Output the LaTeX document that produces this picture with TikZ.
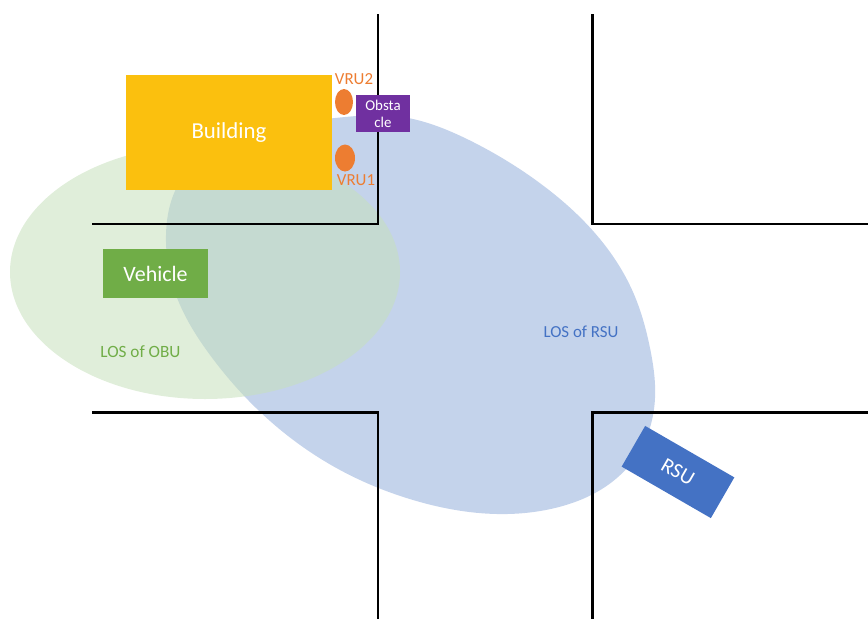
\documentclass[tikz,border=0pt]{standalone}
\usepackage{fontspec}
\setmainfont{Carlito}
\usetikzlibrary{shapes.geometric}
\usetikzlibrary{hobby}

\definecolor{bldg}{RGB}{251,192,14}
\definecolor{vrucol}{RGB}{237,125,49}
\definecolor{obstcol}{RGB}{112,48,160}
\definecolor{vehcol}{RGB}{112,173,71}
\definecolor{rsucol}{RGB}{68,114,196}
\definecolor{losrsu}{RGB}{196,211,235}
\definecolor{losobu}{RGB}{199,224,188}

\begin{document}
\begin{tikzpicture}[x=0.02cm, y=-0.02cm,
    road/.style={line width=1.7pt, black},
    box/.style={rectangle, inner sep=0pt, text=white}]
        \useasboundingbox (0,0) rectangle (868,619);
        % line of sight areas
        \fill[losrsu] plot[closed hobby] coordinates {(395,116) (469,140) (537,181) (594,232) (633,292) (650,348) (655,398) (643,445) (612,482) (555,508) (497,514) (413,500) (340,470) (270,421) (210,355) (176,295) (166,235) (178,185) (215,148) (270,127) (335,118)};
        \fill[losobu, opacity=0.55] (205,272) ellipse [x radius=195, y radius=127];
        % roads
        \draw[road] (378,14) -- (378,224) -- (92,224);
        \draw[road] (592,14) -- (592,224) -- (868,224);
        \draw[road] (92,412) -- (378,412) -- (378,619);
        \draw[road] (868,412) -- (592,412) -- (592,619);
        % objects
        \node[box, fill=bldg, minimum width=4.12cm, minimum height=2.3cm, font=\fontsize{13}{15}\selectfont] at (229,132.5) (building) {Building};
        \node[ellipse, fill=vrucol, inner sep=0pt, minimum width=0.36cm, minimum height=0.52cm] at (344,102) (vru2) {};
        \node[ellipse, fill=vrucol, inner sep=0pt, minimum width=0.4cm, minimum height=0.54cm] at (345,158) (vru1) {};
        \node[text=vrucol, font=\fontsize{9.6}{11}\selectfont, inner sep=0pt] at (354,79) (vru2lbl) {VRU2};
        \node[text=vrucol, font=\fontsize{9.6}{11}\selectfont, inner sep=0pt] at (356,180) (vru1lbl) {VRU1};
        \node[box, fill=obstcol, minimum width=1.08cm, minimum height=0.74cm, align=center, font=\fontsize{8.5}{9.7}\selectfont] at (383,113.5) (obstacle) {Obsta\\cle};
        \node[box, fill=vehcol, minimum width=2.1cm, minimum height=0.98cm, font=\fontsize{12.5}{15}\selectfont] at (155.5,273.5) (vehicle) {Vehicle};
        \node[box, fill=rsucol, minimum width=2.06cm, minimum height=0.94cm, rotate=-30, font=\fontsize{12}{14}\selectfont] at (678,472) (rsu) {RSU};
        \node[text=vehcol, font=\fontsize{9.8}{12}\selectfont] at (140.5,352) (losobulbl) {LOS of OBU};
        \node[text=rsucol, font=\fontsize{9.6}{12}\selectfont] at (581,332) (losrsulbl) {LOS of RSU};
    \end{tikzpicture}
\end{document}
